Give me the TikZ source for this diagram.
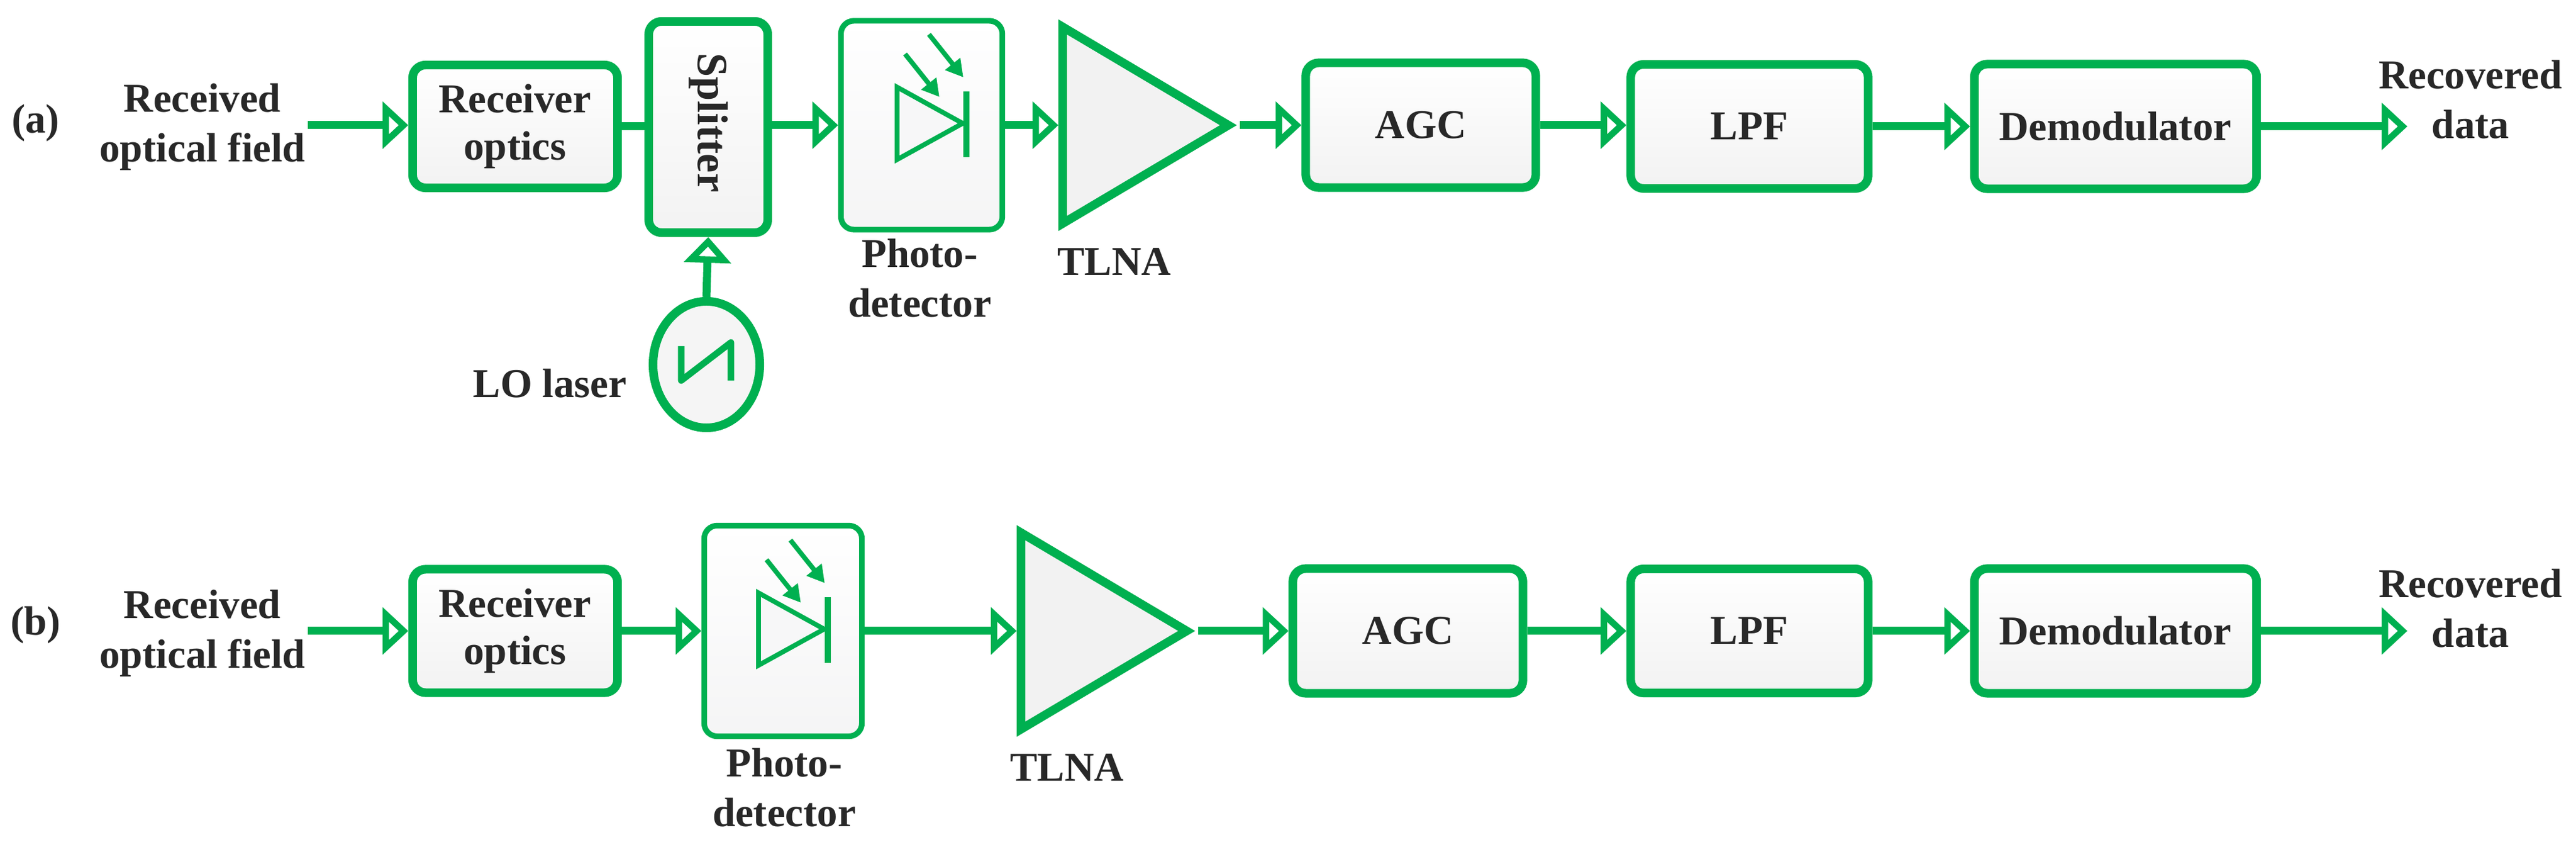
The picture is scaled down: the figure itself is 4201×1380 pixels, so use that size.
\documentclass[tikz,border=0pt]{standalone}
\usepackage{fontspec}
\setmainfont{Liberation Serif}
\usetikzlibrary{arrows.meta,shapes.geometric}
\definecolor{grn}{RGB}{0,176,80}
\definecolor{txt}{RGB}{40,40,40}
\tikzset{
  box/.style={draw=grn,line width=4pt,rounded corners=6pt,top color=white,bottom color=gray!10,
    inner sep=0pt,font=\fontsize{19}{22}\selectfont\bfseries,text=txt,align=center},
  pdbox/.style={box,line width=2.6pt,top color=white,bottom color=blue!3!gray!8},
  amp/.style={isosceles triangle,isosceles triangle stretches,draw=grn,line width=4pt,
    fill=gray!10,inner sep=0pt,minimum width=3.2cm,minimum height=2.7cm},
  lbl/.style={font=\fontsize{19}{23}\selectfont\bfseries,text=txt,align=center},
  con/.style={draw=grn,line width=3.7pt},
  arr/.style={con,-{Triangle[open,length=0.42cm,width=0.75cm,line width=3pt]}},
  ray/.style={draw=grn,line width=2.2pt,-{Triangle[length=0.28cm,width=0.3cm]}},
}
\begin{document}
\begin{tikzpicture}[x=0.01cm,y=-0.01cm]
\useasboundingbox (0,0) rectangle (4201,1380);
% ---------- (a) ----------
\node[lbl] (la) at (58,200) {(a)};
\node[lbl] (ina) at (330,207) {Received\\optical field};
\coordinate (sa) at (502,204);
\node[box,minimum width=3.34cm,minimum height=2.0cm] (roa) at (840,206) {Receiver\\optics};
\node[box,minimum width=1.94cm,minimum height=3.44cm] (spa) at (1155,207) {};
\node[rotate=-90,font=\fontsize{20}{22}\selectfont\bfseries,text=txt] (spt) at (1155,200) {Splitter};
\node[pdbox,minimum width=2.63cm,minimum height=3.4cm] (pda) at (1503,204) {};
\node[amp,anchor=west] (tla) at (1726,204) {};
\node[box,minimum width=3.75cm,minimum height=2.03cm] (agca) at (2317,204) {AGC};
\node[box,minimum width=3.87cm,minimum height=2.02cm] (lpfa) at (2853,206) {LPF};
\node[box,minimum width=4.6cm,minimum height=2.03cm] (dema) at (3450,206) {Demodulator};
\node[lbl] (outa) at (4029,162) {Recovered\\data};
\coordinate (ea) at (3926,206);
\node[lbl] (pdla) at (1500,453) {Photo-\\detector};
\node[lbl] (tlnala) at (1817,426) {TLNA};
\node[ellipse,draw=grn,line width=4pt,fill=gray!8,minimum width=1.74cm,minimum height=2.06cm] (lo) at (1152,594) {};
\node[lbl] (lol) at (897,625) {LO laser};
\draw[grn,line width=3pt,line join=round] ([shift={(-41,-30)}]lo.center) -- ([shift={(-41,26)}]lo.center) -- ([shift={(40,-36)}]lo.center) -- ([shift={(40,26)}]lo.center);
\draw[arr] (sa) -- (roa.west |- sa);
\draw[con] (roa.east) -- (spa.west |- roa.east);
\draw[arr] (spa.east |- pda.west) -- (pda.west);
\draw[arr] (pda.east) -- (tla.west);
\draw[arr] (tla.apex) -- (agca.west);
\draw[arr] (agca.east) -- (lpfa.west |- agca.east);
\draw[arr] (lpfa.east) -- (dema.west);
\draw[arr] (dema.east) -- (ea);
\draw[arr] (lo.north) -- (spa.south);
% ---------- (b) ----------
\node[lbl] (lb) at (58,1018) {(b)};
\node[lbl] (inb) at (330,1032) {Received\\optical field};
\coordinate (sb) at (502,1028);
\node[box,minimum width=3.34cm,minimum height=2.01cm] (rob) at (840,1028) {Receiver\\optics};
\node[pdbox,minimum width=2.57cm,minimum height=3.43cm] (pdb) at (1277,1028) {};
\node[amp,anchor=west] (tlb) at (1658,1028) {};
\node[box,minimum width=3.75cm,minimum height=2.03cm] (agcb) at (2296,1028) {AGC};
\node[box,minimum width=3.87cm,minimum height=2.02cm] (lpfb) at (2853,1028) {LPF};
\node[box,minimum width=4.6cm,minimum height=2.03cm] (demb) at (3450,1028) {Demodulator};
\node[lbl] (outb) at (4029,991) {Recovered\\data};
\coordinate (eb) at (3926,1028);
\node[lbl] (pdlb) at (1279,1283) {Photo-\\detector};
\node[lbl] (tlnalb) at (1740,1250) {TLNA};
\draw[arr] (sb) -- (rob.west);
\draw[arr] (rob.east) -- (pdb.west);
\draw[arr] (pdb.east) -- (tlb.west);
\draw[arr] (tlb.apex) -- (agcb.west);
\draw[arr] (agcb.east) -- (lpfb.west);
\draw[arr] (lpfb.east) -- (demb.west);
\draw[arr] (demb.east) -- (eb);
% photodiode symbols
\foreach \p in {pda,pdb}{
  \begin{scope}[shift={(\p.center)}]
    \draw[grn,line width=2.2pt,fill=blue!4!gray!6] (-40,-62) -- (67,-3) -- (-40,56) -- cycle;
    \draw[grn,line width=2.6pt] (73,-55) -- (73,52);
    \draw[ray] (-27,-116) -- (29,-46);
    \draw[ray] (12,-148) -- (68,-78);
  \end{scope}
}
\end{tikzpicture}
\end{document}
